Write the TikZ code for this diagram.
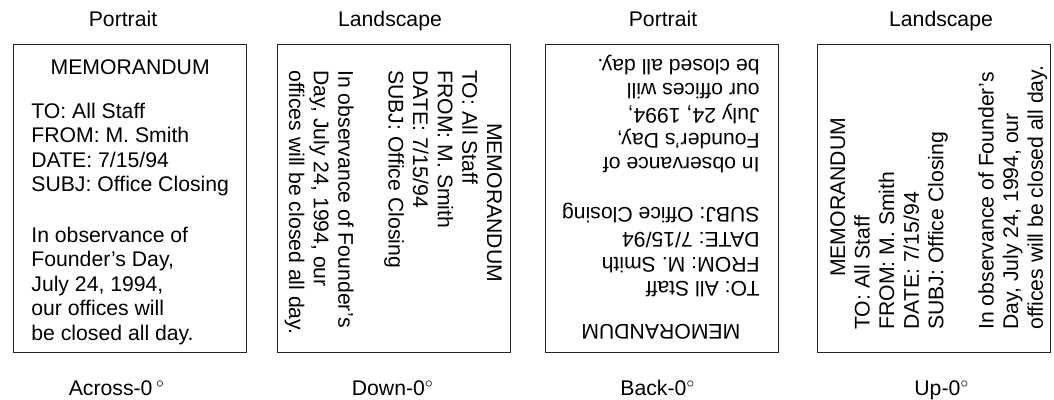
\documentclass[tikz,border=0pt]{standalone}
\usepackage{fontspec}
\setmainfont{Liberation Sans}
\usetikzlibrary{positioning}

% memo body: optional gap after the heading, then the notice lines
\newcommand{\memotext}[2][0pt]{%
\begin{tabular}[t]{@{}l@{}}
\multicolumn{1}{@{}c@{}}{MEMORANDUM}\\[#1]
TO: All Staff\\
FROM: M. Smith\\
DATE: 7/15/94\\
SUBJ: Office Closing\\[12.8pt]
#2
\end{tabular}}

\begin{document}
\begin{tikzpicture}[x=0.5pt,y=-0.5pt,
  sheetbox/.style={draw=black!85,line width=0.5pt,minimum width=116.5pt,minimum height=154pt,inner sep=0pt},
  memo/.style={inner sep=0pt,anchor=base west,font=\fontsize{10.6}{12.3}\selectfont},
  labeltext/.style={inner sep=0pt,anchor=base,font=\fontsize{10.6}{12.3}\selectfont}]
\useasboundingbox (0,0) rectangle (1054,400);

\node[sheetbox] (page1) at (129.5,199) {};
\node[sheetbox] (page2) at (394,199) {};
\node[sheetbox] (page3) at (662,199) {};
\node[sheetbox] (page4) at (934,199) {};

\node[memo] (memo1) at (31,75) {\memotext[9.3pt]{In observance of\\ Founder's Day,\\ July 24, 1994,\\ our offices will\\ be closed all day.}};
\node[memo,rotate=-90] (memo2) at (487,70) {\memotext{In observance of Founder's\\ Day, July 24, 1994, our\\ offices will be closed all day.}};
\node[memo,rotate=180] (memo3) at (760,325) {\memotext[9.3pt]{In observance of\\ Founder's Day,\\ July 24, 1994,\\ our offices will\\ be closed all day.}};
\node[memo,rotate=90] (memo4) at (845,330) {\memotext{In observance of Founder's\\ Day, July 24, 1994, our\\ offices will be closed all day.}};

\node[labeltext] (orient1) at (123,27) {Portrait};
\node[labeltext] (orient2) at (390,27) {Landscape};
\node[labeltext] (orient3) at (663,27) {Portrait};
\node[labeltext] (orient4) at (941,27) {Landscape};

\node[labeltext] (mode1) at (117,395) {Across-0\,$^{\circ}$};
\node[labeltext] (mode2) at (393,395) {Down-0$^{\circ}$};
\node[labeltext] (mode3) at (658,395) {Back-0$^{\circ}$};
\node[labeltext] (mode4) at (942,395) {Up-0$^{\circ}$};
\end{tikzpicture}
\end{document}
